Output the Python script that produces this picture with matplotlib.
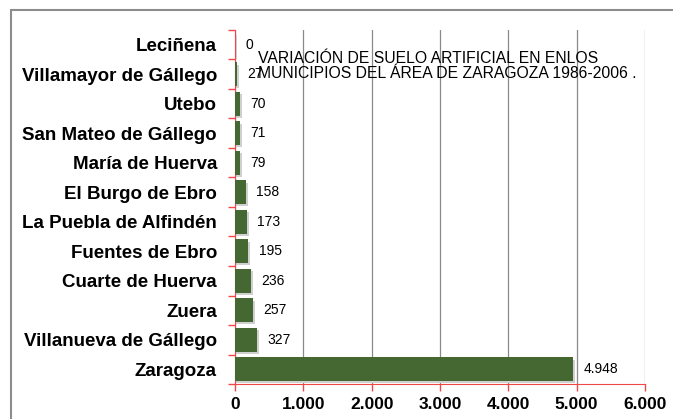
import matplotlib.pyplot as plt
import matplotlib.patches as mpatches
from matplotlib.ticker import FuncFormatter
import numpy as np

municipios = ["Leciñena", "Villamayor de Gállego", "Utebo", "San Mateo de Gállego",
              "María de Huerva", "El Burgo de Ebro", "La Puebla de Alfindén",
              "Fuentes de Ebro", "Cuarte de Huerva", "Zuera",
              "Villanueva de Gállego", "Zaragoza"]
valores = [0, 27, 70, 71, 79, 158, 173, 195, 236, 257, 327, 4948]
etiquetas = ["0", "27", "70", "71", "79", "158", "173", "195", "236", "257", "327", "4.948"]

verde = '#456731'
rojo = '#f04848'

fig = plt.figure(figsize=(6.73, 4.19), dpi=100)
fig.patch.set_facecolor('white')

# marco gris del grafico (cortado por abajo y a la derecha)
fig.patches.append(mpatches.Rectangle((11 / 673, -0.1), 1.0, 1 - 10 / 419 + 0.1,
                                      transform=fig.transFigure, fill=False,
                                      edgecolor='#8c8c8c', linewidth=1.5))

ax = fig.add_axes([235 / 673, 1 - 384 / 419, (645 - 235) / 673, (384 - 30) / 419])

y = np.arange(len(municipios))[::-1]

# sombra de las barras
ax.barh(y - 0.07, np.array(valores) + 30, height=0.8, color='#d0d0d0', zorder=2)
ax.barh(y, valores, height=0.8, color=verde, zorder=3)

for yi, v, t in zip(y, valores, etiquetas):
    ax.text(v + 150, yi, t, va='center', ha='left', fontsize=10,
            family='Liberation Sans', zorder=4)

ax.set_xlim(0, 6000)
ax.set_ylim(-0.5, len(municipios) - 0.5)
ax.set_xticks(np.arange(0, 6001, 1000))
ax.xaxis.set_major_formatter(FuncFormatter(lambda v, p: f"{int(v):,}".replace(",", ".")))
ax.set_yticks(y)
ax.set_yticklabels(municipios)
ax.set_yticks(np.arange(-0.5, len(municipios), 1), minor=True)

for lab in ax.get_xticklabels() + ax.get_yticklabels():
    lab.set_family('Liberation Sans')
    lab.set_fontweight('bold')
ax.tick_params(axis='y', which='major', length=0, pad=13, labelsize=13.5)
ax.tick_params(axis='y', which='minor', length=5, color=rojo, width=1)
ax.tick_params(axis='x', which='major', length=5, color=rojo, width=1, pad=4, labelsize=12.5)

ax.grid(axis='x', color='#8a8a8a', linewidth=0.9, zorder=0)
ax.set_axisbelow(True)
for s in ['top', 'right']:
    ax.spines[s].set_visible(False)
ax.spines['left'].set_color(rojo)
ax.spines['bottom'].set_color(rojo)

fig.text(258 / 673, 1 - 66 / 419,
         "VARIACIÓN DE SUELO ARTIFICIAL EN ENLOS\nMUNICIPIOS DEL ÁREA DE ZARAGOZA 1986-2006 .",
         family='Liberation Sans', fontsize=11.3,
         va='center', ha='left', linespacing=1.0, zorder=5)

fig.savefig('out.png', dpi=100)
